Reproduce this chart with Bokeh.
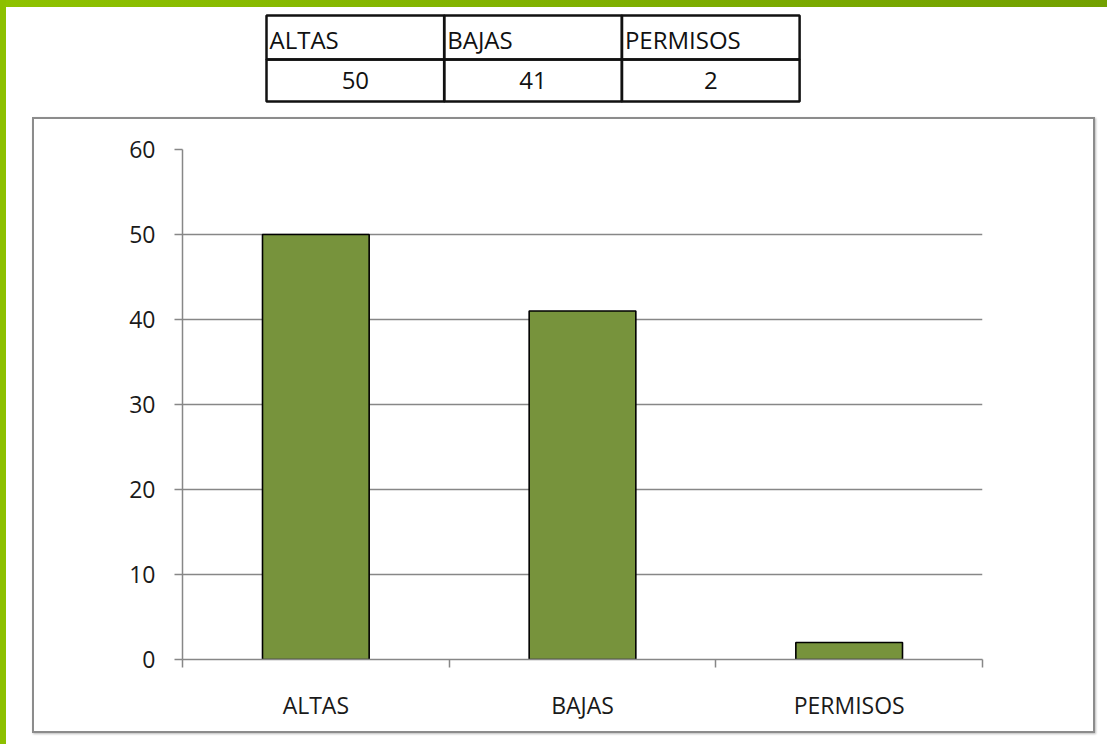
from bokeh.plotting import figure
from bokeh.models import Range1d, FixedTicker, ColumnDataSource
from bokeh.layouts import column
from bokeh.embed import file_html
from bokeh.resources import INLINE

# ---- data ----
categories = ["ALTAS", "BAJAS", "PERMISOS"]
values = [50, 41, 2]
y_ticks = [0, 10, 20, 30, 40, 50, 60]

FONT = "Open Sans"
TXT = "#1a1a1a"
GRID = "#878787"
BAR = "#77933C"

n = len(categories)

# chart geometry (page pixels)
CH_W, CH_H = 1063, 616
B_L, B_R, B_T, B_B = 148, 115, 30, 76

# ---- table figure (frame aligned with chart frame) ----
TX0, TW = 266, 177.7
TY0, TYM, TY1 = 15, 59, 101
T_H = 117

t = figure(width=CH_W, height=T_H, x_range=Range1d(B_L, CH_W - B_R), y_range=Range1d(T_H, 0),
           output_backend="svg", toolbar_location=None,
           min_border_left=B_L, min_border_right=B_R, min_border_top=0, min_border_bottom=0,
           outline_line_color=None, x_axis_location=None, y_axis_location=None,
           border_fill_color=None, background_fill_color=None)
t.grid.visible = False

lefts = [TX0 + i * TW for i in range(n)]
rights = [l + TW for l in lefts]
src = ColumnDataSource(dict(
    left=lefts, right=rights,
    hx=[l + 3 for l in lefts], vx=[l + TW / 2 for l in lefts],
    head=categories, val=[str(v) for v in values],
))
t.quad(left="left", right="right", top=TY0, bottom=TYM, source=src,
       fill_color=None, line_color="#111111", line_width=2.5)
t.quad(left="left", right="right", top=TYM, bottom=TY1, source=src,
       fill_color=None, line_color="#111111", line_width=2.5)
t.text(x="hx", y=39, text="head", source=src, text_font={"value": FONT},
       text_font_size="24px", text_align="left", text_baseline="middle", text_color="#111111")
t.text(x="vx", y=80, text="val", source=src, text_font={"value": FONT},
       text_font_size="24px", text_align="center", text_baseline="middle", text_color="#111111")

# ---- chart figure ----
p = figure(width=CH_W, height=CH_H, x_range=Range1d(0, n), y_range=Range1d(0, 60),
           output_backend="svg", toolbar_location=None,
           min_border_left=B_L, min_border_right=B_R, min_border_top=B_T, min_border_bottom=B_B,
           outline_line_color=None, margin=(0, 12, 11, 32),
           styles={"border": "2px solid #8c8c8c", "box-sizing": "border-box",
                   "box-shadow": "1px 1px 2px #bbbbbb"})

xs = [i + 0.5 for i in range(n)]
p.vbar(x=xs, top=values, width=0.4, bottom=0, fill_color=BAR, line_color="#000000", line_width=1.6)

p.xgrid.visible = False
p.ygrid.ticker = FixedTicker(ticks=y_ticks)
p.ygrid.grid_line_color = GRID
p.ygrid.grid_line_width = 1.5

ya = p.yaxis[0]
ya.ticker = FixedTicker(ticks=y_ticks)
ya.axis_line_color = GRID
ya.axis_line_width = 1.5
ya.major_tick_line_color = GRID
ya.major_tick_line_width = 1.5
ya.major_tick_out = 8
ya.major_tick_in = 0
ya.minor_tick_line_color = None
ya.major_label_standoff = 19
ya.major_label_text_font = FONT
ya.major_label_text_font_size = "23px"
ya.major_label_text_color = TXT

xa = p.xaxis[0]
xa.ticker = FixedTicker(ticks=xs, minor_ticks=[i for i in range(n + 1)])
xa.major_label_overrides = {x: c for x, c in zip(xs, categories)}
xa.axis_line_color = GRID
xa.axis_line_width = 1.5
xa.major_tick_line_color = None
xa.major_tick_out = 0
xa.major_tick_in = 0
xa.minor_tick_line_color = GRID
xa.minor_tick_line_width = 1.5
xa.minor_tick_out = 8
xa.minor_tick_in = 0
xa.major_label_standoff = 21
xa.major_label_text_font = FONT
xa.major_label_text_font_size = "23px"
xa.major_label_text_color = TXT

layout = column(t, p, styles={
    "background": "linear-gradient(to right, #8cc000 0px, #8cc000 6px, transparent 6px), "
                  "linear-gradient(to bottom, transparent 0px, transparent 7px, #ffffff 7px), "
                  "linear-gradient(to right, #8ec200, #72a000)"})
open("out.html", "w").write(file_html(layout, INLINE))
